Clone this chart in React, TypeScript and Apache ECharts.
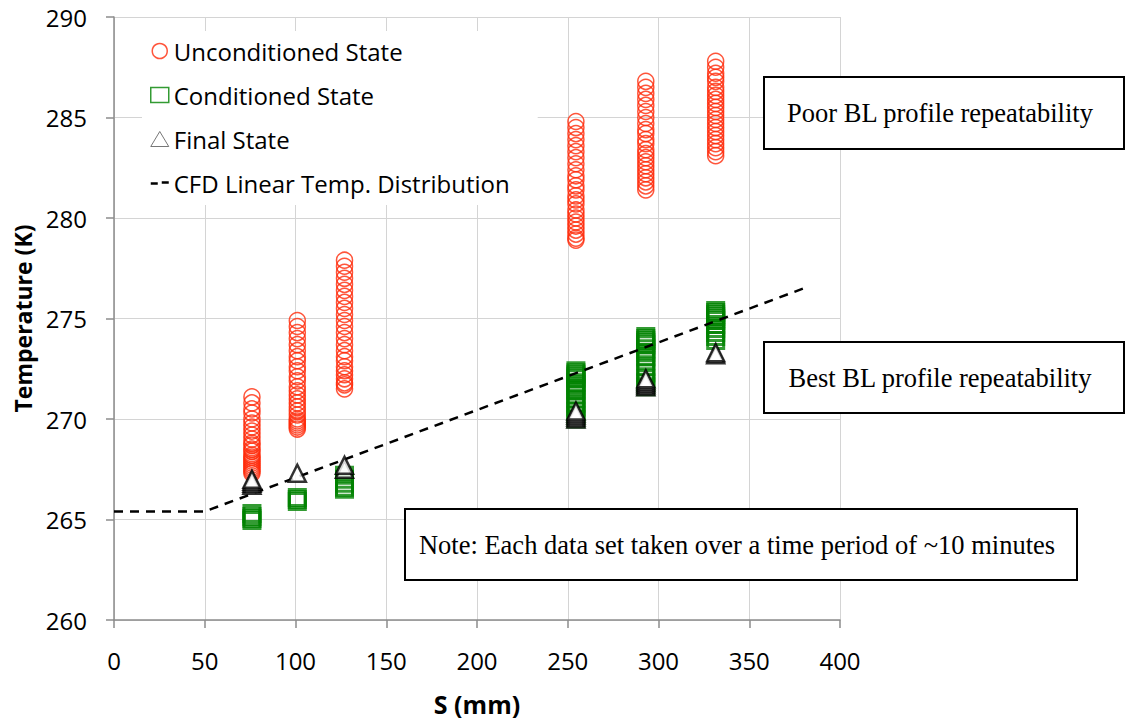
import React, { useEffect, useRef } from "react";
import * as echarts from "echarts";

// Station positions (mm)
const stations = [76, 101, 127, 254.5, 293, 331.5];

// Unconditioned state temperatures (K) per station
const unconditioned: number[][] = [
  [271.1, 270.8, 270.5, 270.3, 270.0, 269.8, 269.6, 269.4, 269.2, 269.0, 268.8, 268.7, 268.5, 268.4, 268.2, 268.1, 268.0, 267.9, 267.8, 267.7, 267.6, 267.5, 267.4, 267.3],
  [274.9, 274.6, 274.3, 274.0, 273.7, 273.4, 273.1, 272.9, 272.6, 272.4, 272.1, 271.9, 271.6, 271.4, 271.2, 271.0, 270.8, 270.6, 270.4, 270.2, 270.0, 269.9, 269.8, 269.7, 269.6, 269.5],
  [277.9, 277.6, 277.3, 277.0, 276.7, 276.4, 276.1, 275.8, 275.5, 275.2, 274.9, 274.6, 274.3, 274.0, 273.7, 273.4, 273.1, 272.9, 272.6, 272.4, 272.2, 272.0, 271.8, 271.7, 271.5],
  [284.8, 284.5, 284.2, 283.9, 283.6, 283.3, 283.0, 282.7, 282.4, 282.1, 281.9, 281.6, 281.4, 281.1, 280.9, 280.7, 280.4, 280.2, 280.0, 279.8, 279.6, 279.4, 279.2, 279.0, 278.9],
  [286.8, 286.5, 286.2, 285.9, 285.6, 285.3, 285.0, 284.7, 284.4, 284.2, 283.9, 283.7, 283.4, 283.2, 283.0, 282.8, 282.6, 282.4, 282.2, 282.0, 281.8, 281.6, 281.4],
  [287.8, 287.5, 287.2, 287.0, 286.8, 286.5, 286.3, 286.1, 285.9, 285.7, 285.5, 285.3, 285.1, 284.9, 284.7, 284.5, 284.3, 284.1, 283.9, 283.7, 283.5, 283.3, 283.1],
];

// Conditioned state temperatures (K) per station
const conditioned: number[][] = [
  [264.95, 265.05, 265.15, 265.3],
  [265.9, 266.0, 266.1],
  [266.5, 266.6, 266.8, 267.0, 267.2],
  [270.0, 270.2, 270.4, 270.6, 270.8, 271.0, 271.2, 271.4, 271.5, 271.7, 271.8, 272.0, 272.1, 272.2, 272.3, 272.4],
  [271.6, 271.8, 272.0, 272.3, 272.6, 272.9, 273.1, 273.3, 273.5, 273.7, 273.8, 273.9, 274.0, 274.1],
  [273.9, 274.1, 274.3, 274.5, 274.7, 274.9, 275.0, 275.1, 275.2, 275.3, 275.4],
];

// Final state temperatures (K) per station
const finalState: number[][] = [
  [266.7, 266.8, 266.9, 267.0],
  [267.3],
  [267.5, 267.7],
  [270.0, 270.1, 270.2, 270.3, 270.4],
  [271.6, 271.7, 271.8, 271.9, 272.0],
  [273.2, 273.3],
];

// CFD linear temperature distribution
const cfdS = [0, 50, 380];
const cfdT = [265.4, 265.4, 276.5];

const xTicks = [0, 50, 100, 150, 200, 250, 300, 350, 400];
const yTicks = [260, 265, 270, 275, 280, 285, 290];

const notes = [
  "Poor BL profile repeatability",
  "Best BL profile repeatability",
  "Note: Each data set taken over a time period of ~10 minutes",
];

const pairs = (vals: number[][]) =>
  vals.flatMap((col, i) => col.map((t) => [stations[i], t]));

const RED = "#ff2a0a";
const GREEN = "#008200";
const SANS = "'Open Sans', 'Liberation Sans', sans-serif";
const SERIF = "'Liberation Serif', 'Times New Roman', serif";

function noteBox(x: number, y: number, w: number, h: number, text: string) {
  return {
    type: "group",
    children: [
      {
        type: "rect",
        shape: { x, y, width: w, height: h },
        style: { fill: "#fff", stroke: "#000", lineWidth: 2 },
        z: 100,
      },
      {
        type: "text",
        x: x + w / 2 - 4,
        y: y + h / 2,
        style: {
          text,
          fill: "#000",
          font: `26.5px ${SERIF}`,
          align: "center",
          verticalAlign: "middle",
        },
        z: 101,
      },
    ],
  };
}

export default function App() {
  const ref = useRef<HTMLDivElement>(null);
  useEffect(() => {
    if (!ref.current) return;
    const chart = echarts.init(ref.current, null, { renderer: "svg" });
    chart.setOption({
      animation: false,
      backgroundColor: "#fff",
      grid: { left: 114, right: 291, top: 17, bottom: 101, containLabel: false },
      xAxis: {
        type: "value",
        min: xTicks[0],
        max: xTicks[xTicks.length - 1],
        interval: 50,
        name: "S (mm)",
        nameLocation: "middle",
        nameGap: 71,
        nameTextStyle: { fontFamily: SANS, fontWeight: "bold", fontSize: 25, color: "#000" },
        axisLine: { show: true, lineStyle: { color: "#8c8c8c", width: 1.5 } },
        axisTick: { show: true, inside: false, length: 8, lineStyle: { color: "#8c8c8c", width: 1.5 } },
        axisLabel: { fontFamily: SANS, fontSize: 24, color: "#000", margin: 28 },
        splitLine: { show: true, lineStyle: { color: "#d4d4d4", width: 1 } },
      },
      yAxis: {
        type: "value",
        min: yTicks[0],
        max: yTicks[yTicks.length - 1],
        interval: 5,
        name: "Temperature (K)",
        nameLocation: "middle",
        nameRotate: 90,
        nameGap: 75,
        nameTextStyle: { fontFamily: SANS, fontWeight: "bold", fontSize: 23, color: "#000" },
        axisLine: { show: true, lineStyle: { color: "#8c8c8c", width: 1.5 } },
        axisTick: { show: true, inside: false, length: 8, lineStyle: { color: "#8c8c8c", width: 1.5 } },
        axisLabel: { fontFamily: SANS, fontSize: 24, color: "#000", margin: 27 },
        splitLine: { show: true, lineStyle: { color: "#d4d4d4", width: 1 } },
      },
      legend: {
        orient: "vertical",
        left: 142,
        top: 31,
        backgroundColor: "#fff",
        padding: [8, 28, 10, 8],
        itemGap: 20,
        itemWidth: 18,
        itemHeight: 15,
        textStyle: { fontFamily: SANS, fontSize: 24, color: "#000" },
        data: [
          { name: "Unconditioned State", icon: "circle", itemStyle: { color: "rgba(0,0,0,0)", borderColor: RED, borderWidth: 1.5 } },
          { name: "Conditioned State", icon: "rect", itemStyle: { color: "rgba(0,0,0,0)", borderColor: GREEN, borderWidth: 1.5 } },
          { name: "Final State", icon: "triangle", itemStyle: { color: "rgba(0,0,0,0)", borderColor: "#555", borderWidth: 1 } },
          {
            name: "CFD Linear Temp. Distribution",
            icon: "path://M0,0 L7,0 L7,2.4 L0,2.4 Z M11,-1 L18,-1 L18,1.4 L11,1.4 Z",
            itemStyle: { color: "#000", borderWidth: 0 },
          },
        ],
      },
      series: [
        {
          name: "CFD Linear Temp. Distribution",
          type: "line",
          data: cfdS.map((s, i) => [s, cfdT[i]]),
          symbol: "none",
          lineStyle: { color: "#000", width: 2.5, type: [9, 7] },
          itemStyle: { color: "#000" },
          z: 3,
        },
        {
          name: "Unconditioned State",
          type: "scatter",
          data: pairs(unconditioned),
          symbol: "circle",
          symbolSize: 16,
          itemStyle: { color: "rgba(0,0,0,0)", borderColor: RED, borderWidth: 1.5 },
          z: 2,
        },
        {
          name: "Conditioned State",
          type: "scatter",
          data: pairs(conditioned),
          symbol: "rect",
          symbolSize: 16,
          itemStyle: { color: "rgba(0,0,0,0)", borderColor: GREEN, borderWidth: 3 },
          z: 2,
        },
        {
          name: "Final State",
          type: "scatter",
          data: pairs(finalState),
          symbol: "triangle",
          symbolSize: 17,
          itemStyle: { color: "#fff", borderColor: "#000", borderWidth: 2.5 },
          z: 4,
        },
      ],
      graphic: [
        noteBox(764, 77, 360, 72, notes[0]),
        noteBox(764, 342, 360, 71, notes[1]),
        noteBox(405, 509, 672, 71, notes[2]),
      ],
    });
    return () => chart.dispose();
  }, []);
  return (
    <div
      ref={ref}
      style={{ position: "fixed", left: 0, top: 0, width: 1131, height: 721 }}
    />
  );
}
